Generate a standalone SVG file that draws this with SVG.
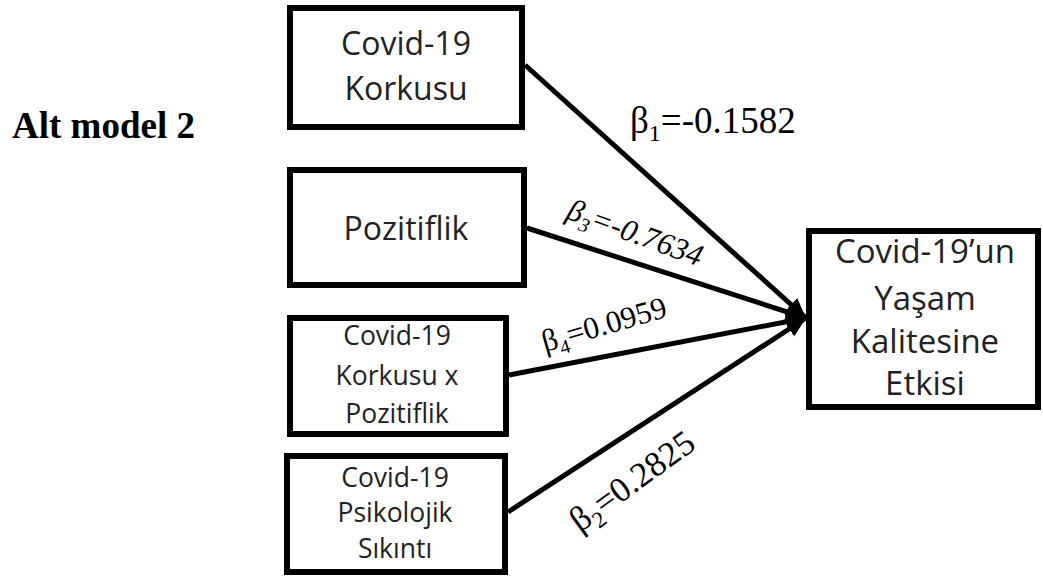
<svg xmlns="http://www.w3.org/2000/svg" width="1043" height="576" viewBox="0 0 1043 576">
<style>
.box{fill:#fff;stroke:#000;stroke-width:6}
.bt{font-family:"Open Sans","Liberation Sans",sans-serif;fill:#222;text-anchor:middle}
.lbl{font-family:"Liberation Serif","Times New Roman",serif;fill:#000}
.ln{stroke:#000;stroke-width:5;fill:none;marker-end:url(#ah)}
</style>
<defs>
<marker id="ah" markerUnits="userSpaceOnUse" markerWidth="24" markerHeight="20" refX="20" refY="9" orient="auto">
<path d="M0,0 L20,9 L0,18 Z" fill="#000"/>
</marker>
</defs>
<rect width="1043" height="576" fill="#fff"/>
<text x="12" y="138" font-family="Liberation Serif,serif" font-weight="bold" font-size="37" fill="#000">Alt model 2</text>
<g id="connectors">
<line class="ln" x1="525" y1="65" x2="806" y2="318"/>
<line class="ln" x1="527" y1="228" x2="806" y2="318"/>
<line class="ln" x1="509" y1="375" x2="806" y2="318"/>
<line class="ln" x1="508" y1="512" x2="806" y2="318"/>
</g>
<g id="n1"><rect class="box" x="290" y="8" width="232" height="119"/>
<text class="bt" font-size="32" x="406" y="55">Covid-19</text>
<text class="bt" font-size="32" x="406" y="100">Korkusu</text></g>
<g id="n2"><rect class="box" x="290" y="170" width="234" height="115"/>
<text class="bt" font-size="32" x="406" y="240">Pozitiflik</text></g>
<g id="n3"><rect class="box" x="290" y="318" width="216" height="116"/>
<text class="bt" font-size="26.5" x="397" y="345">Covid-19</text>
<text class="bt" font-size="26.5" x="397" y="385">Korkusu x</text>
<text class="bt" font-size="26.5" x="397" y="423">Pozitiflik</text></g>
<g id="n4"><rect class="box" x="287" y="456" width="218" height="116"/>
<text class="bt" font-size="26.5" x="395" y="487">Covid-19</text>
<text class="bt" font-size="26.5" x="395" y="522">Psikolojik</text>
<text class="bt" font-size="26.5" x="395" y="558">Sıkıntı</text></g>
<g id="n5"><rect class="box" x="809" y="231" width="229" height="176"/>
<text class="bt" font-size="33" x="925" y="263">Covid-19’un</text>
<text class="bt" font-size="33" x="925" y="310">Yaşam</text>
<text class="bt" font-size="33" x="925" y="353">Kalitesine</text>
<text class="bt" font-size="33" x="925" y="395">Etkisi</text></g>
<g id="labels">
<text class="lbl" font-size="37" x="630" y="133">β<tspan font-size="24" dy="8">1</tspan><tspan dy="-8">=-0.1582</tspan></text>
<text class="lbl" font-size="31" font-style="italic" transform="translate(565,218) rotate(20)">β<tspan font-size="20" dy="7">3</tspan><tspan dy="-7">=-0.7634</tspan></text>
<text class="lbl" font-size="31" transform="translate(545,352) rotate(-16)">β<tspan font-size="20" dy="7">4</tspan><tspan dy="-7">=0.0959</tspan></text>
<text class="lbl" font-size="35" transform="translate(580,533) rotate(-36)">β<tspan font-size="23" dy="8">2</tspan><tspan dy="-8">=0.2825</tspan></text>
</g>
</svg>
